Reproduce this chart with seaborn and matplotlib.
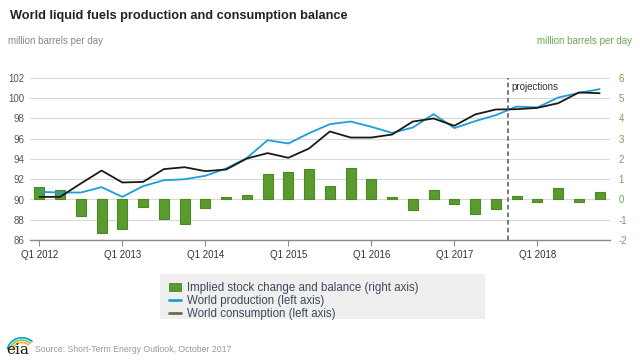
import matplotlib
matplotlib.use("Agg")
import matplotlib.pyplot as plt
import seaborn as sns
import numpy as np
import pandas as pd
from matplotlib.patches import Rectangle, Patch, Arc
from matplotlib.lines import Line2D

quarters = [f"Q{q} {y}" for y in range(2012, 2019) for q in range(1, 5)]
tick_labels = ["Q1 2012", "Q1 2013", "Q1 2014", "Q1 2015", "Q1 2016", "Q1 2017", "Q1 2018"]

stock_change = [0.64, 0.48, -0.81, -1.65, -1.46, -0.38, -0.97, -1.19,
                -0.43, 0.10, 0.21, 1.27, 1.35, 1.51, 0.67, 1.55,
                1.00, 0.10, -0.51, 0.48, -0.23, -0.71, -0.48, 0.16,
                -0.13, 0.56, -0.13, 0.36]
production = [90.76, 90.69, 90.69, 91.22, 90.26, 91.32, 91.90, 92.00,
              92.34, 93.06, 94.10, 95.86, 95.53, 96.55, 97.44, 97.70,
              97.18, 96.58, 97.11, 98.43, 97.05, 97.74, 98.33, 99.18,
              99.09, 100.07, 100.53, 100.90]
consumption = [90.26, 90.26, 91.58, 92.86, 91.68, 91.74, 93.00, 93.19,
               92.80, 92.96, 94.05, 94.58, 94.12, 95.04, 96.72, 96.12,
               96.12, 96.42, 97.70, 98.00, 97.28, 98.40, 98.89, 98.92,
               99.05, 99.51, 100.57, 100.50]

df = pd.DataFrame({"quarter": quarters, "idx": np.arange(len(quarters)),
                   "stock": stock_change, "production": production,
                   "consumption": consumption})

sns.set_theme(style="white")
plt.rcParams['font.family'] = ['Liberation Sans', 'DejaVu Sans']

fig = plt.figure(figsize=(6.4, 3.6), dpi=100)
axL = fig.add_axes([30/640, 1-240/360, 580/640, 162/360])
axR = axL.twinx()
axL.set_zorder(2)
axL.patch.set_visible(False)

green = "#5b9a2e"
blue = "#1d9ddc"
black = "#1e1a12"

# bars (right axis)
sns.barplot(data=df, x="idx", y="stock", ax=axR, color=green, width=0.48,
            edgecolor="#4a8a20", linewidth=0.8, native_scale=True, saturation=1)
axR.set_ylim(-2, 6)
axR.set_yticks(range(-2, 7))
axR.set_yticklabels([str(v) for v in range(-2, 7)])
axR.grid(True, axis="y", color="#d9d9d9", linewidth=0.8)
axR.set_axisbelow(True)

# lines (left axis)
sns.lineplot(data=df, x="idx", y="production", ax=axL, color=blue, linewidth=1.3)
sns.lineplot(data=df, x="idx", y="consumption", ax=axL, color=black, linewidth=1.3)
axL.set_ylim(86, 102)
axL.set_yticks(range(86, 103, 2))
axL.set_xlim(-0.45, 27.5)
axL.set_xticks([0, 4, 8, 12, 16, 20, 24])
axL.set_xticklabels(tick_labels)
axR.set_xlim(-0.45, 27.5)

for a in (axL, axR):
    a.set_xlabel("")
    a.set_ylabel("")
    for s in a.spines.values():
        s.set_visible(False)
axL.spines["bottom"].set_visible(True)
axL.spines["bottom"].set_color("#8c8c8c")
axL.spines["bottom"].set_linewidth(1.0)

axL.tick_params(axis="y", colors="#555555", labelsize=7, length=0, pad=4)
axL.tick_params(axis="x", colors="#555555", labelsize=7, length=4, width=0.8,
                direction="out", pad=3, bottom=True)
axL.tick_params(axis="x", colors="#8c8c8c", labelcolor="#333333")
axR.tick_params(axis="y", colors="#6aa84f", labelsize=7, length=0, pad=6)
axR.tick_params(axis="x", bottom=False, labelbottom=False)

# projections line
axL.axvline(22.58, color="#555555", linestyle=(0, (3, 2)), linewidth=1.1, ymin=0, ymax=1)
axL.text(22.75, 101.1, "projections", fontsize=7, color="#333333", va="center", ha="left")

# titles
fig.text(10/640, 1-16/360, "World liquid fuels production and consumption balance",
         fontsize=9.15, fontweight="bold", color="#222222", va="center", ha="left")
fig.text(8/640, 1-41/360, "million barrels per day", fontsize=7, color="#888888",
         va="center", ha="left")
fig.text(632/640, 1-41/360, "million barrels per day", fontsize=7, color="#6aa84f",
         va="center", ha="right")

# legend box
fig.patches.append(Rectangle((160/640, 1-319/360), 325/640, 45/360,
                             transform=fig.transFigure, facecolor="#efefef",
                             edgecolor="none", zorder=0))
handles = [Patch(facecolor=green, edgecolor="#4a8a20", linewidth=0.6),
           Line2D([0], [0], color=blue, linewidth=2),
           Line2D([0], [0], color="#75684a", linewidth=2)]
labels = ["Implied stock change and balance (right axis)",
          "World production (left axis)",
          "World consumption (left axis)"]
leg = fig.legend(handles, labels, loc="upper left",
                 bbox_to_anchor=(161/640, 1-274/360), frameon=False,
                 fontsize=8.3, handlelength=1.0, handleheight=0.8,
                 handletextpad=0.55, labelspacing=0.08, borderpad=0.2)
for t in leg.get_texts():
    t.set_color("#3b4a5c")

# footer with eia mark
fig.text(6/640, 1-350/360, "eia", fontsize=11, color="#1a1a1a",
         family=["DejaVu Serif"], va="center", ha="left")
for (col, r) in [("#8cc63f", 0.030), ("#00a0dc", 0.036), ("#f5b335", 0.024)]:
    fig.patches.append(Arc((22/640, 1-352/360), r * 1.3, r * 2.2,
                           theta1=60, theta2=160, transform=fig.transFigure,
                           color=col, linewidth=1.2))
fig.text(35/640, 1-350/360, "Source: Short-Term Energy Outlook, October 2017",
         fontsize=6.3, color="#999999", va="center", ha="left")

fig.savefig("out.png", dpi=100)
